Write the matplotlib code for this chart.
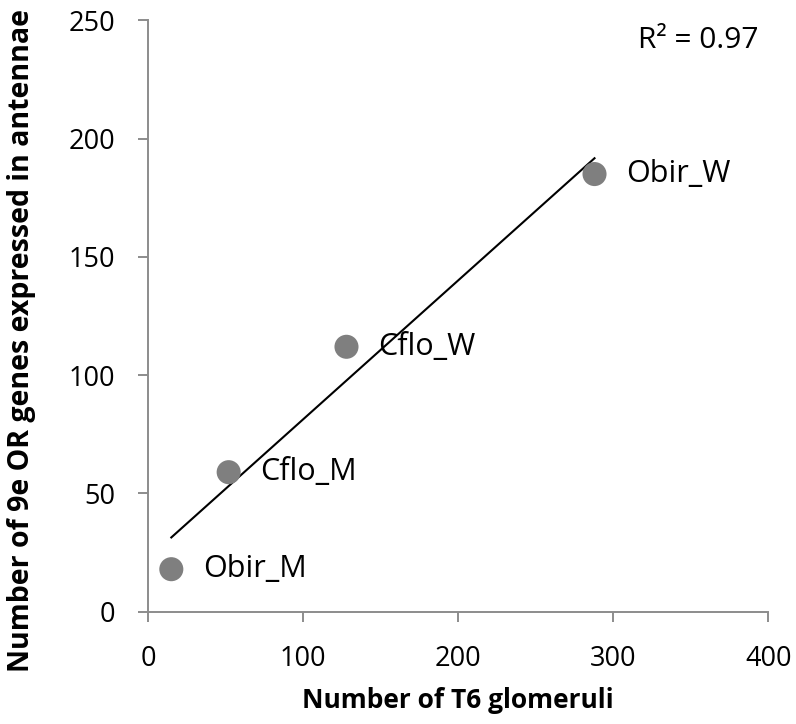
import numpy as np
import matplotlib
matplotlib.use("Agg")
import matplotlib.pyplot as plt

plt.rcParams['font.family'] = ['Open Sans', 'DejaVu Sans']

# donnees
noms = ["Obir_M", "Cflo_M", "Cflo_W", "Obir_W"]
glomeruli = [15, 52, 128, 288]
genes_or = [18, 59, 112, 185]

# droite de regression
pente, origine = np.polyfit(glomeruli, genes_or, 1)
pred = np.polyval([pente, origine], glomeruli)
r2 = 1 - np.sum((np.array(genes_or) - pred) ** 2) / np.sum((np.array(genes_or) - np.mean(genes_or)) ** 2)

fig = plt.figure(figsize=(7.96, 7.24), dpi=100)
ax = fig.add_axes([0.186, 0.155, 0.779, 0.817])

xs = np.array([min(glomeruli), max(glomeruli)])
ax.plot(xs, pente * xs + origine, color="black", lw=1.5, zorder=2)
ax.scatter(glomeruli, genes_or, s=300, color="#7f7f7f", edgecolors="none", zorder=3)

for n, x, y in zip(noms, glomeruli, genes_or):
    ax.annotate(n, (x, y), xytext=(23, 0), textcoords="offset points",
                ha="left", va="center", fontsize=22)

ax.text(0.985, 0.99, f"R² = {r2:.2f}", transform=ax.transAxes,
        ha="right", va="top", fontsize=21.5)

ax.set_xlim(0, 400)
ax.set_ylim(0, 250)
ax.set_xticks([0, 100, 200, 300, 400])
ax.set_yticks([0, 50, 100, 150, 200, 250])

for s in ["top", "right"]:
    ax.spines[s].set_visible(False)
for s in ["left", "bottom"]:
    ax.spines[s].set_color("#8c8c8c")
    ax.spines[s].set_linewidth(1.4)
ax.tick_params(direction="out", length=7.5, width=1.4, color="#8c8c8c",
               labelsize=19.5)
ax.tick_params(axis="x", pad=16.5)
ax.tick_params(axis="y", pad=16)

ax.set_xlabel("Number of T6 glomeruli", fontsize=19, fontweight="bold")
ax.set_ylabel("Number of 9e OR genes expressed in antennae", fontsize=20.5,
              fontweight="bold")
ax.xaxis.set_label_coords(0.5, -0.128)
ax.yaxis.set_label_coords(-0.18, 0.458)

fig.savefig("out.png", dpi=100)
